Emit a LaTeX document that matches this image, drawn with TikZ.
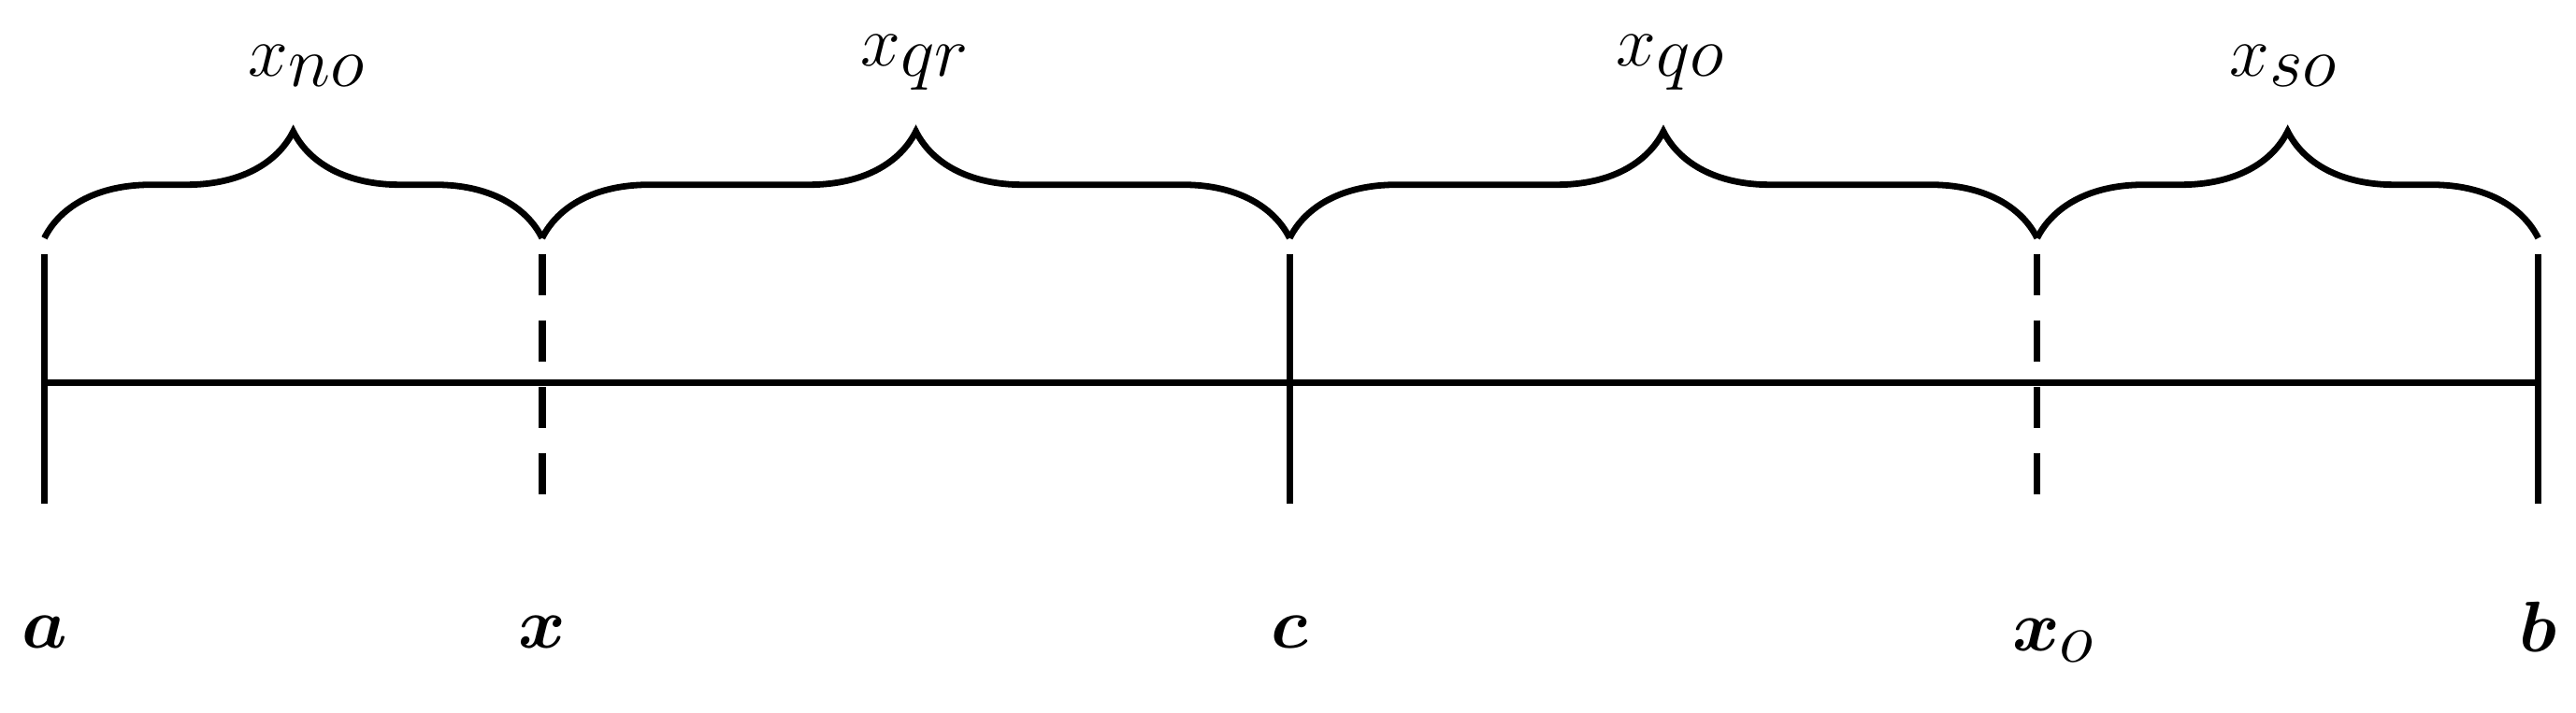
\documentclass[tikz,border=0pt]{standalone}
\usepackage{amsmath,bm}
\usetikzlibrary{decorations.pathreplacing}
\begin{document}
\begin{tikzpicture}[x=0.02cm,y=-0.02cm,line width=2.4pt,
  tick/.style={line width=2.4pt},
  dtick/.style={line width=2.4pt,dash pattern=on 14pt off 9pt},
  br/.style={decorate,decoration={brace,amplitude=1.3cm,raise=0pt},line width=2.2pt},
  lab/.style={font=\fontsize{56}{64}\selectfont,inner sep=0pt}]
\useasboundingbox (0,0) rectangle (1568,434);
\coordinate (A) at (27,233); \coordinate (X) at (330,233); \coordinate (C) at (785,233);
\coordinate (XO) at (1240,233); \coordinate (B) at (1545,233);
\coordinate (At) at (27,155); \coordinate (Ab) at (27,307);
\coordinate (Xt) at (330,155); \coordinate (Xb) at (330,307);
\coordinate (Ct) at (785,155); \coordinate (Cb) at (785,307);
\coordinate (XOt) at (1240,155); \coordinate (XOb) at (1240,307);
\coordinate (Bt) at (1545,155); \coordinate (Bb) at (1545,307);
\draw (A) -- (B);
\draw[tick] (At) -- (Ab); \draw[tick] (Ct) -- (Cb); \draw[tick] (Bt) -- (Bb);
\draw[dtick] (Xt) -- (Xb); \draw[dtick] (XOt) -- (XOb);
\coordinate (a1) at (27,145); \coordinate (x1) at (330,145); \coordinate (c1) at (785,145);
\coordinate (o1) at (1240,145); \coordinate (b1) at (1545,145);
\draw[br] (a1) -- (x1); \draw[br] (x1) -- (c1); \draw[br] (c1) -- (o1); \draw[br] (o1) -- (b1);
\node[lab] (lno) at (187,40) {$x_{no}$};
\node[lab] (lqr) at (557,38) {$x_{qr}$};
\node[lab] (lqo) at (1017,38) {$x_{qo}$};
\node[lab] (lso) at (1390,40) {$x_{so}$};
\node[lab] (la) at (27,385) {$\bm{a}$};
\node[lab] (lx) at (330,385) {$\bm{x}$};
\node[lab] (lc) at (785,385) {$\bm{c}$};
\node[lab] (lxo) at (1250,390) {$\bm{x}_o$};
\node[lab] (lb) at (1545,382) {$\bm{b}$};
\end{tikzpicture}
\end{document}
